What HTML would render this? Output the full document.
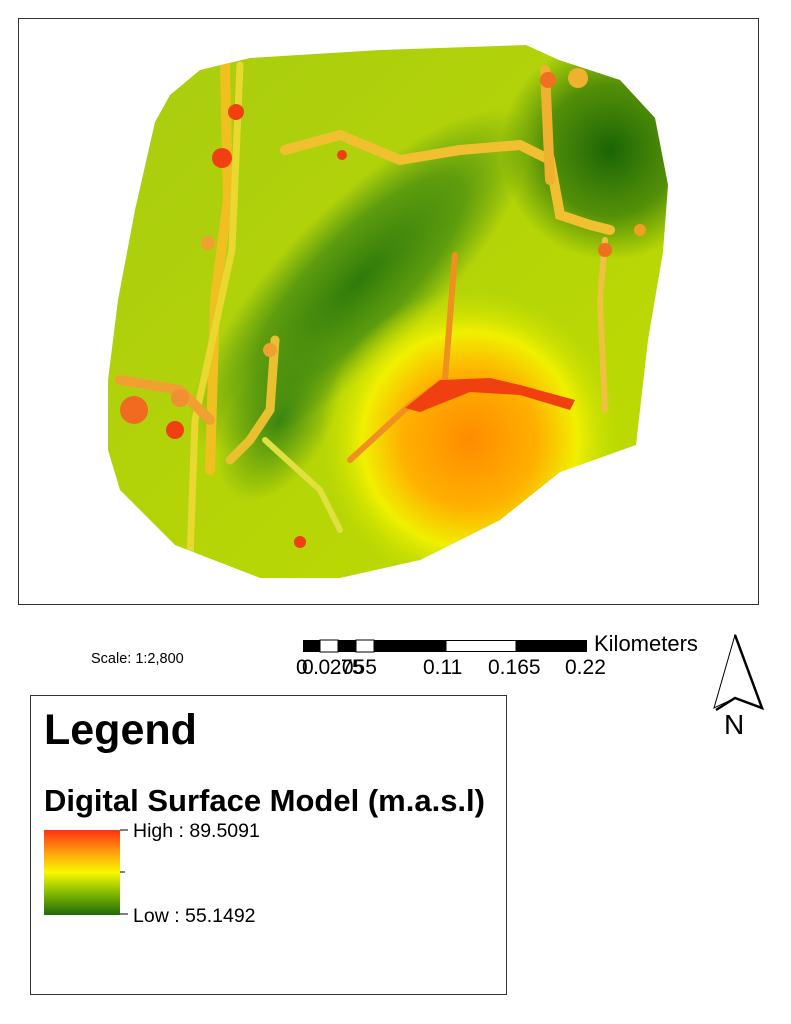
<!DOCTYPE html>
<html><head><style>
body{margin:0;background:#fff;width:791px;height:1024px;position:relative;overflow:hidden;font-family:"Liberation Sans",Arial,sans-serif}
.a{position:absolute;white-space:nowrap}
</style></head><body>
<svg class="a" style="left:0;top:0" width="791" height="1024">
<defs>
<clipPath id="cp"><polygon points="155,122 170,95 200,70 250,58 380,50 526,45 559,60 620,80 655,118 668,185 663,252 648,340 636,445 560,472 500,520 420,560 340,578 260,578 175,545 120,490 108,450 108,380 118,300 135,210"/></clipPath>
<radialGradient id="or" cx="470" cy="440" r="150" gradientUnits="userSpaceOnUse">
<stop offset="0" stop-color="#ff8c00"/><stop offset="0.45" stop-color="#ffb000"/><stop offset="0.72" stop-color="#f0f000"/><stop offset="1" stop-color="#c8e000" stop-opacity="0"/></radialGradient>
<radialGradient id="dg1" cx="610" cy="150" r="110" gradientUnits="userSpaceOnUse"><stop offset="0" stop-color="#1a6406"/><stop offset="0.6" stop-color="#2a7208" stop-opacity="0.7"/><stop offset="1" stop-color="#2a7208" stop-opacity="0"/></radialGradient>
<radialGradient id="dg2" cx="0" cy="0" r="1" gradientUnits="userSpaceOnUse" gradientTransform="translate(360,280) rotate(-45) scale(230,75)"><stop offset="0" stop-color="#2e7a0a"/><stop offset="0.6" stop-color="#3a8510" stop-opacity="0.7"/><stop offset="1" stop-color="#3a8510" stop-opacity="0"/></radialGradient>
<radialGradient id="dg3" cx="0" cy="0" r="1" gradientUnits="userSpaceOnUse" gradientTransform="translate(280,420) rotate(-60) scale(90,50)"><stop offset="0" stop-color="#3a8510"/><stop offset="1" stop-color="#3a8510" stop-opacity="0"/></radialGradient>
<linearGradient id="base" x1="0" y1="0" x2="1" y2="1"><stop offset="0" stop-color="#a8cc10"/><stop offset="1" stop-color="#c0dc00"/></linearGradient>
</defs>
<rect x="18.5" y="18.5" width="740" height="586" fill="none" stroke="#333"/>
<g clip-path="url(#cp)">
<rect x="100" y="40" width="580" height="545" fill="url(#base)"/>
<rect x="100" y="40" width="580" height="545" fill="url(#dg1)"/>
<rect x="100" y="40" width="580" height="545" fill="url(#dg2)"/>
<rect x="100" y="40" width="580" height="545" fill="url(#dg3)"/>
<rect x="100" y="40" width="580" height="545" fill="url(#or)"/>
<g fill="none" stroke-linecap="round">
<path d="M225,65 L228,200 L215,300 L210,470" stroke="#f0c020" stroke-width="10"/>
<path d="M240,65 L232,250 L195,420 L190,560" stroke="#e8d830" stroke-width="7"/>
<path d="M285,150 L340,135 L400,160 L460,150 L520,145 L550,160 L560,215 L590,225 L610,230" stroke="#f0c030" stroke-width="10"/>
<path d="M545,70 L550,180" stroke="#f0b030" stroke-width="10"/>
<path d="M455,255 L445,380 L410,405 L350,460" stroke="#f09020" stroke-width="6"/>
<path d="M275,340 L270,410 L250,440 L230,460" stroke="#e8c030" stroke-width="9"/>
<path d="M265,440 L320,490 L340,530" stroke="#e0e040" stroke-width="6"/>
<path d="M120,380 L180,390 L210,420" stroke="#f0a030" stroke-width="10"/>
<path d="M605,240 L600,300 L605,410" stroke="#f0c040" stroke-width="6"/>
</g>
<g fill="#f04010">
<circle cx="236" cy="112" r="8"/><circle cx="222" cy="158" r="10"/><circle cx="175" cy="430" r="9"/>
<circle cx="134" cy="410" r="14" fill="#f06a20"/><circle cx="300" cy="542" r="6"/>
<path d="M405,408 L440,380 L490,378 L520,385 L575,400 L570,410 L520,395 L470,392 L420,412 Z"/>
<circle cx="342" cy="155" r="5"/><circle cx="548" cy="80" r="8" fill="#f07020"/>
<circle cx="605" cy="250" r="7" fill="#f07020"/><circle cx="640" cy="230" r="6" fill="#f0a020"/>
<circle cx="578" cy="78" r="10" fill="#f0b030"/><circle cx="208" cy="243" r="7" fill="#f0a030"/>
<circle cx="270" cy="350" r="7" fill="#f0a030"/><circle cx="180" cy="398" r="9" fill="#f09030"/>
</g>
</g>
<g>
<rect x="303" y="640" width="17" height="12" fill="#000"/>
<rect x="320" y="640" width="18" height="12" fill="#fff" stroke="#000"/>
<rect x="338" y="640" width="18" height="12" fill="#000"/>
<rect x="356" y="640" width="18" height="12" fill="#fff" stroke="#000"/>
<rect x="374" y="640" width="72" height="12" fill="#000"/>
<rect x="446" y="640.5" width="70" height="11" fill="#fff" stroke="#000"/>
<rect x="516" y="640" width="71" height="12" fill="#000"/>
</g>
<polygon points="735,635 714,708 735,698 762,708" fill="#fff" stroke="#000" stroke-width="1"/>
<path d="M735,635 L762,708 L735,698 L716,710" fill="none" stroke="#000" stroke-width="2.5"/>
<rect x="30.5" y="695.5" width="476" height="299" fill="#fff" stroke="#333"/>
<defs><linearGradient id="lg" x1="0" y1="0" x2="0" y2="1"><stop offset="0" stop-color="#ff3010"/><stop offset="0.25" stop-color="#ff9a10"/><stop offset="0.5" stop-color="#f8f800"/><stop offset="0.75" stop-color="#80b800"/><stop offset="1" stop-color="#1f6a08"/></linearGradient></defs>
<rect x="44" y="830" width="76" height="85" fill="url(#lg)"/>
<path d="M120,830 H128 M120,872 H125 M120,914 H128" stroke="#000"/>
</svg>
<div class="a" style="left:594px;top:631px;font-size:22px">Kilometers</div>
<div class="a" style="left:296px;top:656px;font-size:21px">0</div>
<div class="a" style="left:302px;top:656px;font-size:21px;letter-spacing:-0.5px">0.0275</div>
<div class="a" style="left:336px;top:656px;font-size:21px">.055</div>
<div class="a" style="left:423px;top:656px;font-size:21px">0.11</div>
<div class="a" style="left:488px;top:656px;font-size:21px">0.165</div>
<div class="a" style="left:565px;top:656px;font-size:21px">0.22</div>
<div class="a" style="left:91px;top:651px;font-size:14.5px">Scale: 1:2,800</div>
<div class="a" style="left:724px;top:709px;font-size:28px">N</div>
<div class="a" style="left:44px;top:706px;font-size:43px;font-weight:bold">Legend</div>
<div class="a" style="left:44px;top:783px;font-size:31px;font-weight:bold">Digital Surface Model (m.a.s.l)</div>
<div class="a" style="left:133px;top:820px;font-size:19.5px">High : 89.5091</div>
<div class="a" style="left:133px;top:905px;font-size:19.5px">Low : 55.1492</div>
</body></html>
